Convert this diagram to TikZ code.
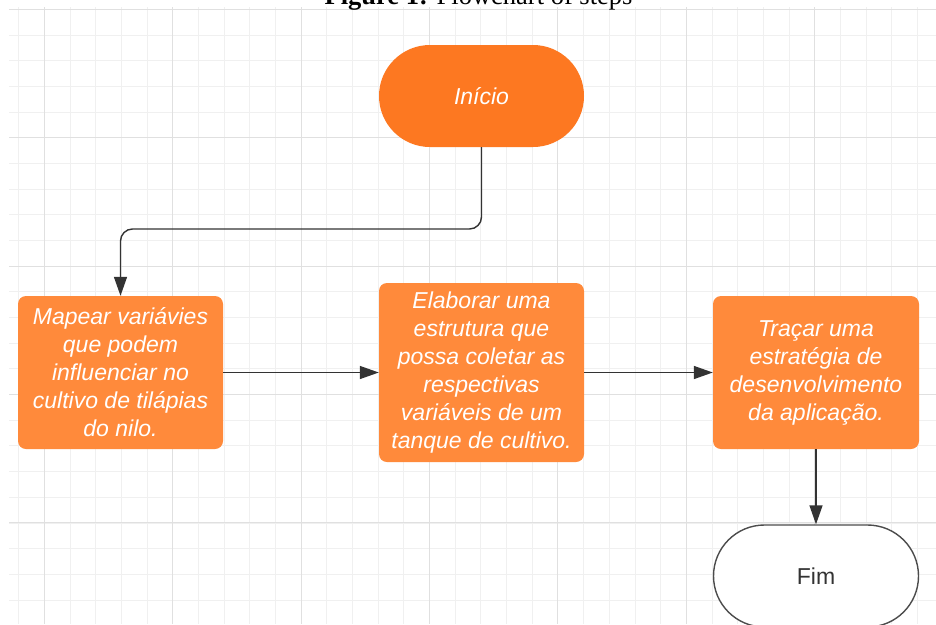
\documentclass[tikz,border=0pt]{standalone}
\usepackage{fontspec}
\setmainfont{Liberation Sans}
\newfontfamily\titlefont{Liberation Serif}
\usetikzlibrary{arrows.meta,shapes.misc}
\definecolor{inicioorange}{HTML}{FD7821}
\definecolor{boxorange}{HTML}{FF8A3B}
\definecolor{seta}{HTML}{333333}
\tikzset{
  etapa/.style={rectangle, rounded corners=8pt, fill=boxorange, text=white,
    inner sep=0pt, align=center, font=\itshape\fontsize{23}{28}\selectfont},
  terminal/.style={rounded rectangle, inner sep=0pt, minimum width=205pt,
    minimum height=102pt, font=\fontsize{23}{28}\selectfont},
  fluxo/.style={draw=seta, line width=1.4pt, -{Triangle[length=19pt,width=13pt]}}
}

\begin{document}
\begin{tikzpicture}[x=1pt,y=-1pt]
\useasboundingbox (0,0) rectangle (936,624);
\fill[white] (0,0) rectangle (936,624);
\foreach \i in {0,...,35}
  \draw[black!6, line width=0.8pt] (18.6+\i*25.68,7) -- (18.6+\i*25.68,624);
\foreach \i in {0,...,23}
  \draw[black!6, line width=0.8pt] (9,9.3+\i*25.68) -- (936,9.3+\i*25.68);
\foreach \i in {0,...,6}
  \draw[black!12, line width=0.9pt] (44.3+\i*128.4,7) -- (44.3+\i*128.4,624);
\foreach \i in {0,...,4}
  \draw[black!12, line width=0.9pt] (9,9.3+\i*128.4) -- (936,9.3+\i*128.4);

\node[anchor=base, font=\titlefont\fontsize{26.5}{30}\selectfont] (titulo) at (478.5,4) {\textbf{Figure 1:} Flowchart of steps};

\node[terminal, fill=inicioorange, text=white, font=\itshape\fontsize{23}{28}\selectfont] (inicio) at (481.5,96) {Início};
\node[etapa, minimum width=205pt, minimum height=153pt] (mapear) at (120.5,372.5)
  {Mapear variávies\\que podem\\influenciar no\\cultivo de tilápias\\do nilo.};
\node[etapa, minimum width=205pt, minimum height=179pt] (elaborar) at (481.5,372.5)
  {Elaborar uma\\estrutura que\\possa coletar as\\respectivas\\variáveis de um\\tanque de cultivo.};
\node[etapa, minimum width=206pt, minimum height=153pt] (tracar) at (816,372.5)
  {Traçar uma\\estratégia de\\desenvolvimento\\da aplicação.};
\node[terminal, draw=black!70, line width=1.4pt, fill=white, text=seta, minimum width=205pt] (fim) at (816,576) {Fim};

\coordinate (dobra) at (300,229);
\draw[fluxo, rounded corners=12pt] (inicio.south) |- (dobra) -| (mapear.north);
\draw[fluxo] (mapear.east) -- (elaborar.west);
\draw[fluxo] (elaborar.east) -- (tracar.west);
\draw[fluxo] (tracar.south) -- (fim.north);
\end{tikzpicture}
\end{document}
